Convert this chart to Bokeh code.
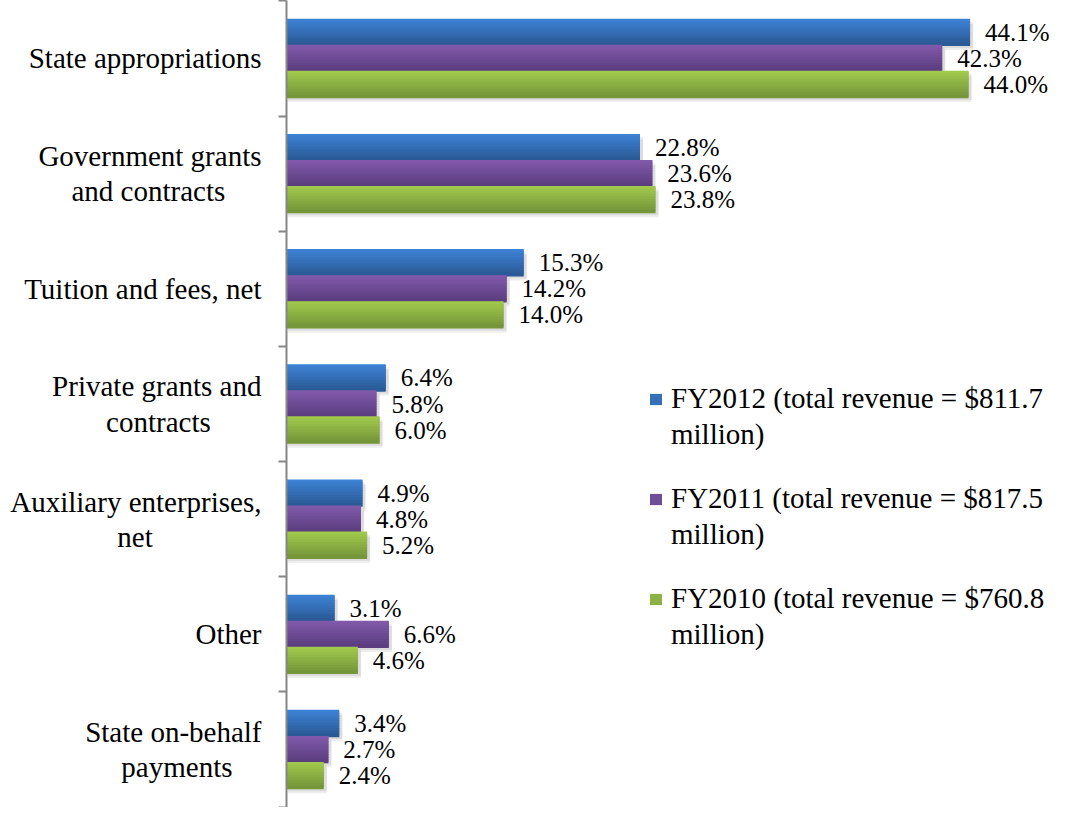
from bokeh.plotting import figure
from bokeh.models import (Range1d, FixedTicker, LinearAxis, Legend, LegendItem,
                          ColumnDataSource)
from bokeh.core.properties import value
from bokeh.embed import file_html
from bokeh.resources import INLINE

# ---------------- data ----------------
categories = ["State appropriations", "Government grants\nand contracts",
              "Tuition and fees, net", "Private grants and\ncontracts",
              "Auxiliary enterprises,\nnet", "Other", "State on-behalf\npayments"]
fy2012 = [44.1, 22.8, 15.3, 6.4, 4.9, 3.1, 3.4]
fy2011 = [42.3, 23.6, 14.2, 5.8, 4.8, 6.6, 2.7]
fy2010 = [44.0, 23.8, 14.0, 6.0, 5.2, 4.6, 2.4]
series_line1 = ["FY2012 (total revenue = $811.7",
                "FY2011 (total revenue = $817.5",
                "FY2010 (total revenue = $760.8"]
series_line2 = ["million)", "million)", "million)"]

FONT = "Liberation Serif"
# gradient colours (top, bottom)
grads = [("#3d81d4", "#2b5b96"), ("#8059aa", "#5c3e80"), ("#a0c94c", "#76963a")]

W, H = 1049, 807
LEFT = 286
XMAX = (W - LEFT) / 15.5
p = figure(width=W, height=H, output_backend="svg", toolbar_location=None,
           x_range=Range1d(0, XMAX), y_range=Range1d(7.003, -0.003),
           x_axis_location=None, y_axis_location=None,
           min_border_left=LEFT, min_border_right=0, min_border_top=0,
           min_border_bottom=0)
p.grid.visible = False
p.outline_line_color = None
p.background_fill_color = "white"

n = len(categories)
centers = [i + 0.5 for i in range(n)]
bh = 0.226
offsets = [-bh, 0.0, bh]
all_series = [fy2012, fy2011, fy2010]


def mix(c1, c2, t):
    a = [int(c1[i:i + 2], 16) for i in (1, 3, 5)]
    b = [int(c2[i:i + 2], 16) for i in (1, 3, 5)]
    return "#%02x%02x%02x" % tuple(round(a[k] + (b[k] - a[k]) * t) for k in range(3))


# shadows
for vals, off in zip(all_series, offsets):
    for d in (0.04, 0.022):
        p.hbar(y=[c + off + d for c in centers], right=[v + 0.2 for v in vals],
               left=0.1, height=bh, fill_color="#000000", fill_alpha=0.07,
               line_color=None)

legend_renderers = []
NS = 10
for vals, off, (ct, cb) in zip(all_series, offsets, grads):
    p.hbar(y=[c + off for c in centers], right=vals, left=0, height=bh,
           fill_color=mix(ct, cb, 0.5), line_color=None)
    mid = None
    for k in range(NS):
        t = k / (NS - 1)
        ys = [c + off - bh / 2 + (k + 0.5) * bh / NS for c in centers]
        r = p.hbar(y=ys, right=vals, left=0, height=bh / NS * 1.5,
                   fill_color=mix(ct, cb, t), line_color=None)
        if k == 4:
            mid = r
    legend_renderers.append(mid)
    src = ColumnDataSource(dict(x=vals, y=[c + off for c in centers],
                                t=["%.1f%%" % v for v in vals]))
    p.text(x="x", y="y", text="t", source=src, x_offset=15,
           text_baseline="middle", text_align="left",
           text_font=value(FONT), text_font_size="25px", text_color="black")

blank = p.hbar(y=[0], right=[0], left=0, height=0.0001, fill_alpha=0, line_alpha=0)

# category labels: right-aligned block with its lines centred
# (pad shorter lines with no-break spaces, Times metrics)
TW = {' ': 250, ',': 250, '-': 333, 'a': 444, 'b': 500, 'c': 444, 'd': 500,
      'e': 444, 'f': 333, 'g': 500, 'h': 500, 'i': 278, 'j': 278, 'k': 500,
      'l': 278, 'm': 778, 'n': 500, 'o': 500, 'p': 500, 'q': 500, 'r': 333,
      's': 389, 't': 278, 'u': 500, 'v': 500, 'w': 722, 'x': 500, 'y': 500,
      'z': 444, 'A': 722, 'G': 722, 'O': 722, 'P': 556, 'S': 556, 'T': 611}


def centred(lab):
    lines = lab.split("\n")
    ws = [sum(TW.get(ch, 500) for ch in ln) for ln in lines]
    wm = max(ws)
    return "\n".join(ln + "\u00a0" * round((wm - w) / 2 / 250) for ln, w in zip(lines, ws))


ax = LinearAxis(ticker=FixedTicker(ticks=centers, minor_ticks=list(range(n + 1))),
                major_label_overrides={c: centred(lab) for c, lab in zip(centers, categories)})
ax.major_tick_out = 0
ax.major_tick_in = 0
ax.minor_tick_out = 8
ax.minor_tick_in = 0
ax.minor_tick_line_color = "#868686"
ax.minor_tick_line_width = 2
ax.axis_line_color = "#868686"
ax.axis_line_width = 2
ax.major_label_text_font = FONT
ax.major_label_text_font_size = "29px"
ax.major_label_text_color = "black"
ax.major_label_standoff = 17
ax.major_label_text_line_height = 1.1
p.add_layout(ax, "left")

for j, (l1, l2, rr) in enumerate(zip(series_line1, series_line2, legend_renderers)):
    lg = Legend(items=[LegendItem(label=l1, renderers=[rr]),
                       LegendItem(label=l2, renderers=[blank])],
                location=(362, 356 - j * 100), orientation="vertical")
    lg.background_fill_alpha = 0
    lg.border_line_color = None
    lg.label_text_font = FONT
    lg.label_text_font_size = "29px"
    lg.label_text_color = "black"
    lg.label_height = 30
    lg.glyph_width = 15
    lg.glyph_height = 14
    lg.label_standoff = 8
    lg.spacing = 3
    lg.padding = 0
    lg.margin = 0
    p.add_layout(lg)

open("out.html", "w").write(file_html(p, INLINE))
